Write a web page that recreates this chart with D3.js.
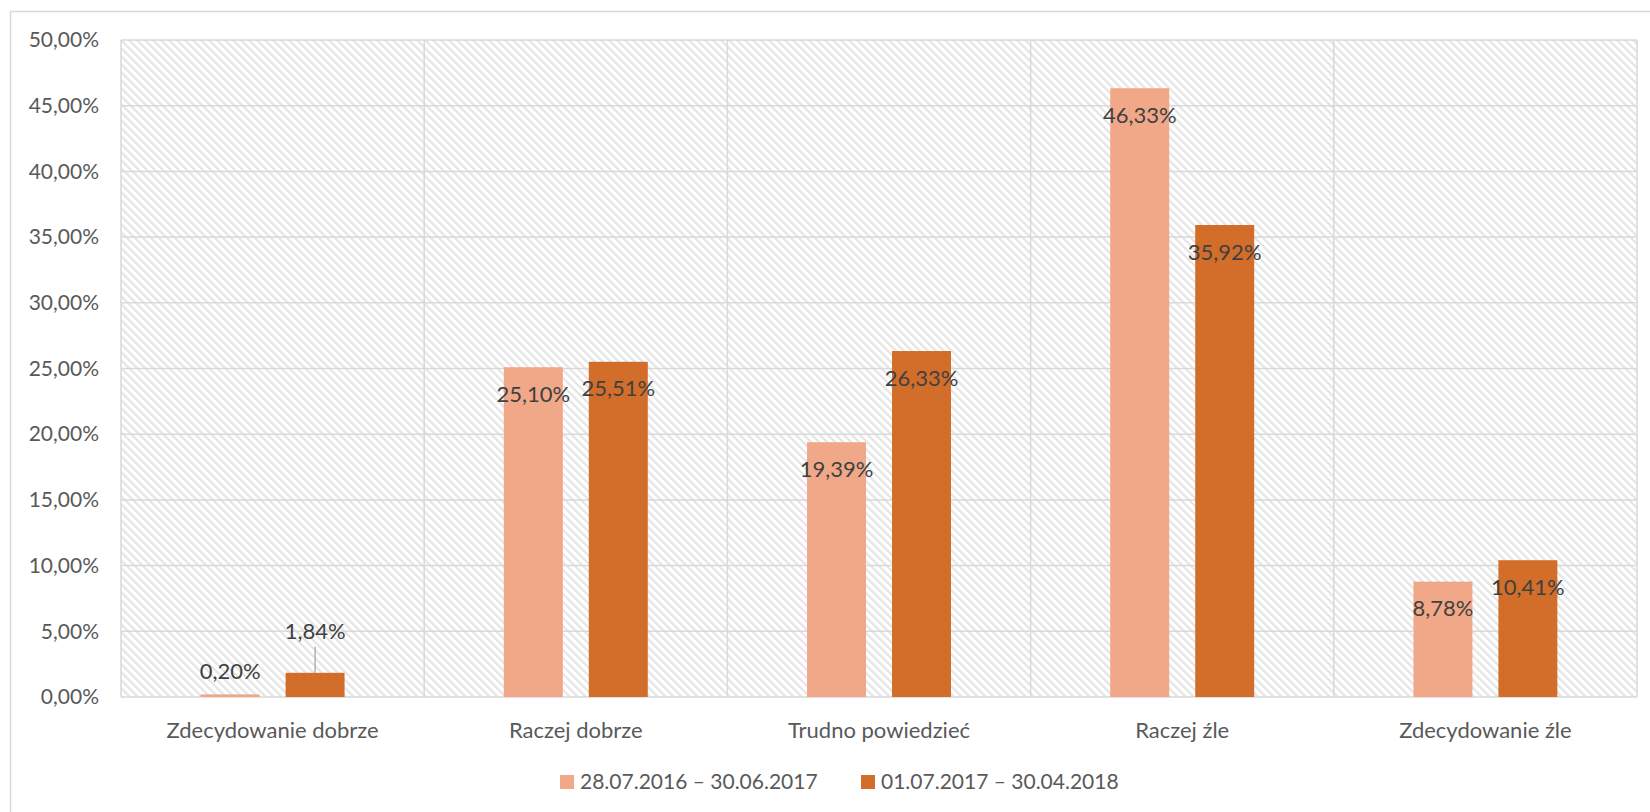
<!DOCTYPE html>
<html>
<head>
<meta charset="utf-8">
<script src="https://cdn.jsdelivr.net/npm/d3@7"></script>
<style>
  body { margin: 0; background: #fff; }
  text { font-family: Lato, "Open Sans", sans-serif; }
</style>
</head>
<body>
<div id="chart"></div>
<script>
// Data
var categories = ["Zdecydowanie dobrze", "Raczej dobrze", "Trudno powiedzieć", "Raczej źle", "Zdecydowanie źle"];
var seriesNames = ["28.07.2016 – 30.06.2017", "01.07.2017 – 30.04.2018"];
var series1 = [0.20, 25.10, 19.39, 46.33, 8.78];
var series2 = [1.84, 25.51, 26.33, 35.92, 10.41];
var yTicks = [0, 5, 10, 15, 20, 25, 30, 35, 40, 45, 50];
var colors = ["#f1a889", "#d36e2a"];

// SVG window
var svgWidth = 1650;
var svgHeight = 812;

var margin = {
    top: 40,
    right: 13,
    bottom: 115,
    left: 121
};

var width = svgWidth - margin.left - margin.right;
var height = svgHeight - margin.top - margin.bottom;

var svg = d3.select("#chart")
  .append("svg")
  .attr("width", svgWidth)
  .attr("height", svgHeight);

// hatch pattern for plot background
var defs = svg.append("defs");
var pattern = defs.append("pattern")
  .attr("id", "hatch")
  .attr("patternUnits", "userSpaceOnUse")
  .attr("width", 8)
  .attr("height", 8);
pattern.append("rect")
  .attr("width", 8)
  .attr("height", 8)
  .attr("fill", "#fff");
pattern.append("path")
  .attr("d", "M-2,-2 L10,10 M-2,6 L2,10 M6,-2 L10,2")
  .attr("stroke", "#e4e4e4")
  .attr("stroke-width", 2);

// outer chart border
svg.append("rect")
  .attr("x", 10.5)
  .attr("y", 11.5)
  .attr("width", 1645)
  .attr("height", 810)
  .attr("fill", "none")
  .attr("stroke", "#d9d9d9")
  .attr("stroke-width", 1.5);

var chartGroup = svg.append("g")
  .attr("transform", `translate(${margin.left}, ${margin.top})`);

// scales
var x0 = d3.scaleBand()
  .domain(categories)
  .range([0, width])
  .padding(0);

var x1 = d3.scaleBand()
  .domain([0, 1])
  .range([0, x0.bandwidth()])
  .paddingInner(0.306)
  .paddingOuter(0.937);

var yScale = d3.scaleLinear()
  .domain([0, 50])
  .range([height, 0]);

// background
chartGroup.append("rect")
  .attr("width", width)
  .attr("height", height)
  .attr("fill", "url(#hatch)");

// horizontal gridlines
chartGroup.selectAll(".hgrid")
  .data(yTicks)
  .enter()
  .append("line")
  .attr("x1", 0)
  .attr("x2", width)
  .attr("y1", d => yScale(d))
  .attr("y2", d => yScale(d))
  .attr("stroke", "#d9d9d9")
  .attr("stroke-width", 1.5);

// vertical gridlines between categories
var vLines = categories.map(c => x0(c)).concat([width]);
chartGroup.selectAll(".vgrid")
  .data(vLines)
  .enter()
  .append("line")
  .attr("x1", d => d)
  .attr("x2", d => d)
  .attr("y1", 0)
  .attr("y2", height)
  .attr("stroke", "#d9d9d9")
  .attr("stroke-width", 1.5);

// y axis
var leftAxis = d3.axisLeft(yScale)
  .tickValues(yTicks)
  .tickSize(0)
  .tickPadding(22)
  .tickFormat(d => d3.format(".2f")(d).replace(".", ",") + "%");

var yAxis = chartGroup.append("g").call(leftAxis);
yAxis.select(".domain").remove();
yAxis.selectAll("text")
  .attr("font-size", 21)
  .attr("fill", "#595959")
  .style("font-family", "Lato, sans-serif");

// x axis labels
var bottomAxis = d3.axisBottom(x0).tickSize(0).tickPadding(25);
var xAxis = chartGroup.append("g")
  .attr("transform", `translate(0, ${height})`)
  .call(bottomAxis);
xAxis.select(".domain").remove();
xAxis.selectAll("text")
  .attr("font-size", 22)
  .attr("fill", "#595959")
  .style("font-family", "Lato, sans-serif");

// bars
var allSeries = [series1, series2];
var barData = [];
categories.forEach((c, i) => {
  allSeries.forEach((s, j) => {
    barData.push({ cat: c, s: j, value: s[i] });
  });
});

chartGroup.selectAll(".bar")
  .data(barData)
  .enter()
  .append("rect")
  .attr("x", d => x0(d.cat) + x1(d.s))
  .attr("y", d => yScale(d.value))
  .attr("width", x1.bandwidth())
  .attr("height", d => height - yScale(d.value))
  .attr("fill", d => colors[d.s]);

// data labels
function fmt(v) {
  return d3.format(".2f")(v).replace(".", ",") + "%";
}

chartGroup.selectAll(".label")
  .data(barData)
  .enter()
  .append("text")
  .attr("x", d => x0(d.cat) + x1(d.s) + x1.bandwidth() / 2)
  .attr("y", d => {
    if (d.value < 1) return yScale(d.value) - 23;
    if (d.value < 5) return yScale(d.value) - 42;
    return yScale(d.value) + 27;
  })
  .attr("dy", "0.35em")
  .attr("text-anchor", "middle")
  .attr("font-size", 22)
  .attr("fill", "#404040")
  .text(d => fmt(d.value));

// leader line for the small second-series value
barData.filter(d => d.value >= 1 && d.value < 5).forEach(d => {
  var cx = x0(d.cat) + x1(d.s) + x1.bandwidth() / 2;
  chartGroup.append("line")
    .attr("x1", cx)
    .attr("x2", cx)
    .attr("y1", yScale(d.value) - 26)
    .attr("y2", yScale(d.value))
    .attr("stroke", "#a6a6a6")
    .attr("stroke-width", 1.3);
});

// legend
var legendX = [560, 861];
var legend = svg.append("g");
seriesNames.forEach((name, i) => {
  legend.append("rect")
    .attr("x", legendX[i])
    .attr("y", 775)
    .attr("width", 14)
    .attr("height", 14)
    .attr("fill", colors[i]);
  legend.append("text")
    .attr("x", legendX[i] + 20)
    .attr("y", 782)
    .attr("dy", "0.35em")
    .attr("font-size", 21)
    .attr("fill", "#595959")
    .text(name);
});
</script>
</body>
</html>
